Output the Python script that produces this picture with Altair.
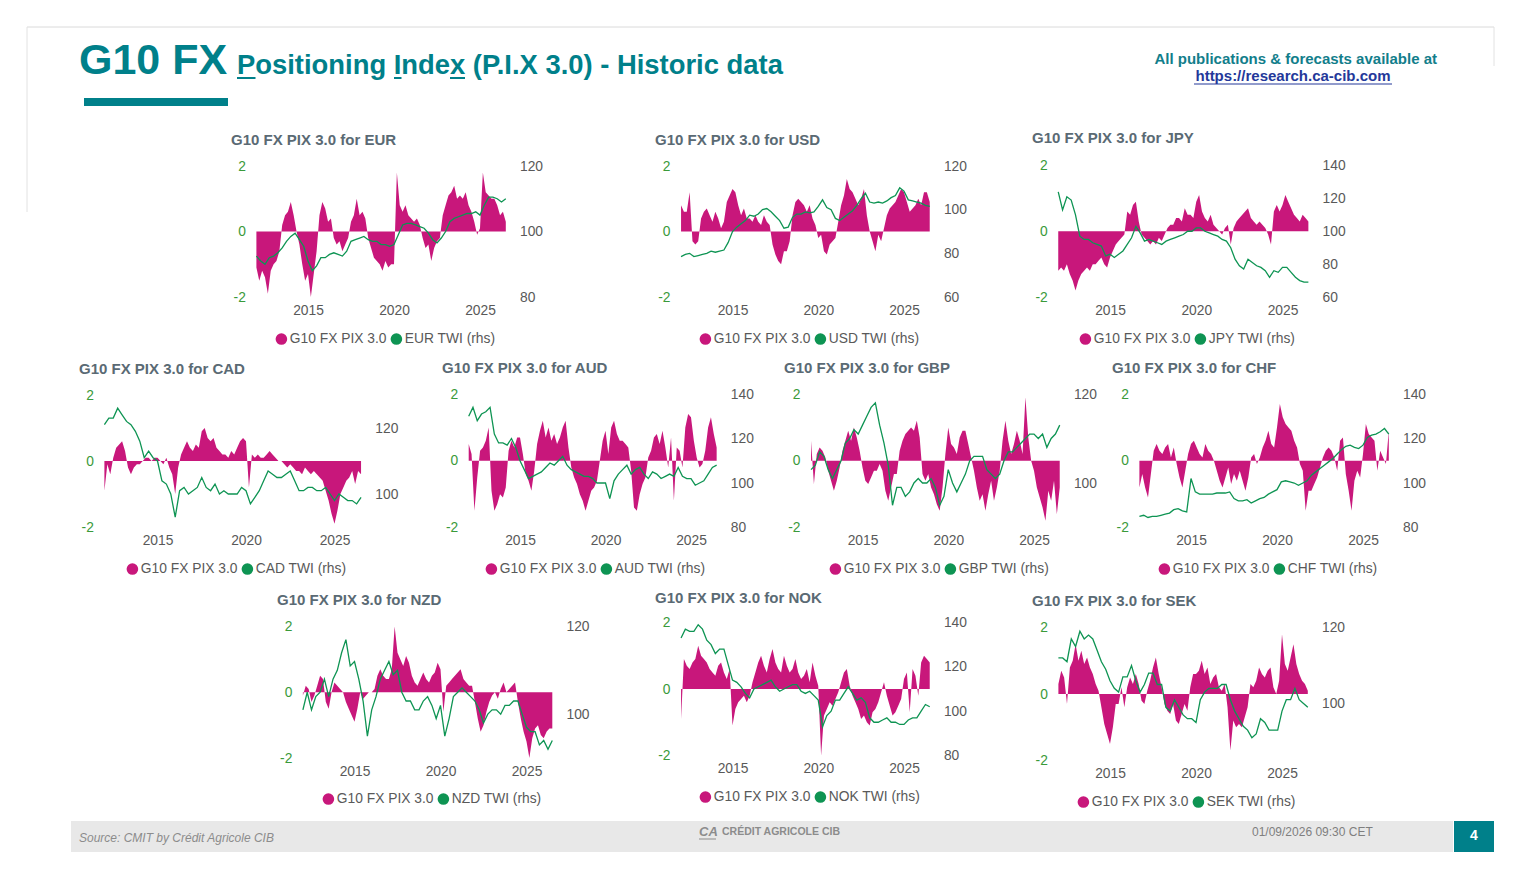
import altair as alt
import pandas as pd

FONT = "Liberation Sans"
TEAL = "#00808A"
MAGENTA = "#C8177B"
GREEN = "#0E9453"
AXGREEN = "#3A9A3A"
GREY = "#595959"
TITLE_GREY = "#5A6A74"
W, H, M = 1506, 864, 8

# ---------------- data ----------------
PIX_T = [round(2012 + k / 6, 4) for k in range(88)]   # bi-monthly grid 2012.0 .. 2026.5
TWI_T = [2012 + k / 4 for k in range(59)]             # quarterly grid 2012.0 .. 2026.5
LEG_PIX = "G10 FX PIX 3.0"
CCYS = ["EUR", "USD", "JPY", "CAD", "AUD", "GBP", "CHF", "NZD", "NOK", "SEK"]

EUR_PIX = [-1.1, -1.5, -1.2, -1.4, -1.9, -1.2,
           -1.0, -0.9, -0.6, 0.2, 0.5, 0.6,
           0.9, 0.5, 0.0, -0.4, -1.0, -1.5,
           -1.3, -2.0, -1.3, -0.6, 0.5, 0.9,
           0.7, 0.3, 0.4, -0.2, -0.4, -0.3,
           -0.6, -0.4, -0.2, 0.3, 0.5, 1.0,
           0.5, 0.6, 0.4, -0.2, -0.5, -0.8,
           -0.9, -1.0, -1.2, -0.9, -1.1, -1.0,
           -1.0, 1.8, 0.8, 0.6, 0.8, 0.5,
           0.4, 0.3, 0.4, 0.2, -0.2, -0.5,
           -0.4, -0.9, -0.5, -0.3, -0.2, 0.5,
           0.8, 1.1, 1.2, 1.4, 1.0, 1.1,
           1.0, 1.2, 0.8, 0.6, 0.3, -0.1,
           0.1, 1.8, 1.2, 1.1, 1.0, 1.0,
           0.8, 0.5, 0.6, 0.3]
EUR_TWI = [92.5, 91, 90, 92, 92.5, 93.5, 95, 97, 98.5, 99.5, 97.5, 95.5,
           91, 88, 89.5, 92, 92, 93, 93.5, 93, 92.5, 94, 97, 97.5,
           98, 98.5, 97.5, 97, 97, 96, 96, 95.5, 96, 99, 102, 102.5,
           102.5, 102, 101.5, 101, 99.5, 97.5, 96.5, 98, 100, 103, 104, 104.5,
           105, 105.5, 105.5, 106, 105, 108, 110.5, 110.5, 110, 109, 110]

USD_PIX = [0.8, 0.6, 0.6, 1.2, -0.3, -0.4,
           -0.3, 0.4, 0.6, 0.7, 0.5, 0.3,
           0.6, 0.4, 0.1, 0.3, 0.9, 1.1,
           1.3, 1.2, 0.8, 0.5, 0.7, 0.4,
           0.4, 0.3, 0.5, 0.3, 0.2, 0.5,
           0.3, 0.2, -0.4, -0.7, -0.9, -1.0,
           -0.6, -0.6, -0.3, 0.5, 0.9, 1.0,
           0.9, 0.8, 0.6, 0.8, 0.4, 0.2,
           -0.2, -0.1, -0.6, -0.7, -0.4, -0.3,
           -0.2, 0.3, 0.8, 1.1, 1.6, 1.3,
           1.2, 1.0, 0.8, 1.0, 1.3, 0.5,
           0.0, -0.3, -0.6, -0.1, -0.3, 0.1,
           0.5, 0.7, 0.8, 0.9, 1.1, 1.3,
           1.2, 0.9, 0.6, 0.7, 0.8, 1.0,
           0.8, 1.2, 1.2, 0.9]
USD_TWI = [78.5, 79.5, 80, 78.5, 79, 79.5, 80, 81, 80.5, 81, 81.5, 85,
           90, 92, 93.5, 95, 97.5, 97, 98, 100, 100.5, 99, 97, 95,
           91.5, 92, 96.5, 98, 98, 99, 98.5, 99, 101.5, 104.5, 101, 100,
           96, 95, 96.5, 98, 99.5, 102, 105, 107.5, 103.5, 103, 103.5, 103,
           104, 105.5, 106.5, 110, 108.5, 104.5, 104, 103.5, 103, 102, 101.5]

JPY_PIX = [-1.2, -1.1, -1.2, -1.0, -1.3, -1.5,
           -1.8, -1.5, -1.3, -1.2, -1.1, -1.2,
           -1.0, -1.0, -0.9, -0.8, -1.0, -1.1,
           -0.8, -0.6, -0.4, -0.3, -0.2, -0.1,
           0.6, 0.5, 0.8, 0.9, 0.3, -0.1,
           -0.2, -0.3, -0.4, -0.3, -0.4, -0.2,
           -0.3, -0.1, 0.1, 0.2, 0.2, 0.4,
           0.4, 0.3, 0.7, 0.5, 0.5, 0.4,
           0.9, 1.1, 0.6, 0.4, 0.3, 0.5,
           0.2, 0.1, 0.0, -0.1, 0.1, 0.2,
           -0.4, 0.1, 0.3, 0.4, 0.5, 0.6,
           0.7, 0.4, 0.3, 0.2, 0.3, 0.2,
           0.1, -0.1, -0.4, 0.6, 0.8, 0.6,
           0.8, 1.1, 0.9, 0.7, 0.5, 0.4,
           0.3, 0.5, 0.4, 0.3]
JPY_TWI = [124, 113, 121, 119, 110, 97, 95, 95, 93, 92, 91, 85,
           86, 84, 86, 88, 92, 96, 103, 99, 94, 95, 94, 93,
           92, 94, 95, 96, 97, 98, 100, 100, 102, 102, 100, 99,
           98, 97, 95, 94, 90, 83, 79, 77, 83, 81, 79, 78,
           76, 72, 76, 75, 78, 78, 75, 72, 70, 69, 69]

CAD_PIX = [-0.9, -0.1, -0.4, 0.1, 0.4, 0.5,
           0.6, 0.3, -0.2, -0.4, -0.2, -0.1,
           -0.1, 0.0, 0.1, 0.1, 0.0, 0.1,
           0.1, 0.0, -0.1, 0.1, -0.2, -0.4,
           -1.0, -0.2, 0.2, 0.4, 0.6, 0.4,
           0.3, 0.5, 0.4, 0.9, 1.0, 0.7,
           0.6, 0.7, 0.4, 0.3, 0.2, 0.2,
           0.1, 0.3, 0.2, 0.4, 0.6, 0.7,
           0.6, -0.8, 0.2, 0.1, 0.2, 0.1,
           0.1, 0.2, 0.3, 0.2, 0.1, 0.0,
           0.0, -0.1, -0.2, -0.1, -0.2, -0.3,
           -0.3, -0.4, -0.2, -0.3, -0.4, -0.3,
           -0.4, -0.5, -0.6, -0.9, -1.2, -1.6,
           -1.9, -1.5, -1.0, -0.8, -0.6, -0.5,
           -0.3, -0.7, -0.3, -0.4]
CAD_TWI = [121, 123, 123, 126, 124, 122, 121, 119, 116, 111, 113, 111,
           110, 104, 103, 100, 93, 101, 102, 100, 101, 102, 105, 102,
           101, 103, 100, 101, 100, 100, 100, 102, 101, 97, 99, 101,
           104, 107, 106, 105, 105, 106, 107, 104, 101, 101, 102, 102,
           101, 101, 102, 100, 98, 100, 99, 98, 98, 97, 99]

AUD_PIX = [0.5, 0.2, -1.5, -0.5, 0.3, 0.4,
           0.6, 1.0, -0.9, -1.5, -1.3, -1.0,
           -1.1, -0.8, 0.3, 0.6, 0.4, 0.7,
           0.7, 0.2, -0.4, -0.6, -0.9, -0.3,
           0.5, 0.9, 1.2, 0.7, 1.0, 0.6,
           0.8, 0.5, 0.7, 1.0, 1.2, 0.4,
           -0.2, -0.5, -0.7, -1.0, -1.2, -1.5,
           -1.2, -0.9, -0.8, -0.6, 0.0, 0.6,
           0.9, 0.2, 1.0, 1.2, 0.8, 0.6,
           0.6, 0.5, 0.4, -0.3, -1.4, -1.5,
           -1.0, -0.7, -0.5, 0.1, 0.3, 0.7,
           0.8, 0.5, 0.9, 0.4, -0.2, 0.7,
           -1.2, 0.4, 0.3, -0.2, 1.0, 1.4,
           1.3, 0.6, 0.1, -0.2, -0.1, 0.3,
           1.0, 1.3, 0.8, 0.4]
AUD_TWI = [130, 134, 128, 131, 132, 134, 122, 118, 118, 117, 120, 116,
           110, 106, 102, 103, 104, 105, 107, 109, 108, 110, 112, 108,
           106, 105, 104, 103, 103, 102, 100, 100, 100, 93, 101, 104,
           106, 108, 104, 106, 107, 104, 102, 105, 104, 102, 103, 104,
           103, 107, 103, 102, 102, 99, 100, 101, 104, 107, 108]

GBP_PIX = [0.6, -0.7, 0.2, 0.4, 0.3, 0.1,
           -0.3, -0.6, -0.9, -0.6, -0.2, 0.3,
           0.6, 0.9, 0.6, 1.0, 0.7, 0.3,
           -0.2, -0.6, -0.7, -0.5, -0.3, -0.3,
           -0.1, -0.3, -0.9, -1.2, -0.8, -0.4,
           -0.4, 0.3, 0.6, 0.8, 0.9, 1.0,
           0.9, 1.2, 0.7, -0.4, -0.6, -0.4,
           -0.8, -1.0, -1.3, -1.5, -0.8, 0.2,
           1.0, 0.5, 0.4, 0.2, 0.7, 0.9,
           0.9, 0.5, 0.1, -0.3, -0.8, -1.2,
           -1.0, -1.5, -1.0, -0.6, -1.2, -0.8,
           -0.3, 0.6, 1.2, 0.6, 0.2, 0.5,
           0.9, 0.6, 0.2, 1.9, 0.7, 0.0,
           -0.3, -0.8, -1.1, -1.4, -1.8, -0.9,
           -1.2, -0.6, -1.6, -0.8]
GBP_TWI = [103, 104, 107, 106, 103, 101, 103, 105, 109, 110, 112, 111,
           113, 115, 117, 118, 113, 109, 104, 95, 99, 99, 97, 98,
           100, 101, 100, 100, 101, 99, 95, 97, 103, 100, 98, 100,
           102, 105, 106, 106, 106, 103, 102, 101, 102, 105, 107, 107,
           108, 109, 110, 111, 111, 110, 111, 108, 110, 111, 113]

CHF_PIX = [-0.8, -0.4, -0.8, -1.1, -0.4, 0.3,
           0.5, 0.3, 0.2, 0.4, 0.5, 0.1,
           0.4, -0.1, -0.5, -0.8, -0.3, 0.2,
           0.5, 0.6, 0.4, 0.2, 0.1, 0.5,
           0.3, 0.2, 0.0, -0.3, -0.6, -0.8,
           -0.5, -0.2, -0.7, -0.4, -0.6, -0.3,
           -0.6, -0.9, -0.5, 0.1, 0.2, -0.1,
           0.1, 0.4, 0.6, 0.9, 0.5, 0.4,
           1.0, 1.7, 1.3, 1.1, 1.0, 0.9,
           0.6, 0.4, -0.1, -0.3, -1.5, -0.9,
           -0.9, -0.7, -0.5, -0.2, 0.1, 0.3,
           0.4, 0.3, 0.1, -0.3, 0.6, 0.7,
           -0.4, -0.9, -1.5, -0.6, -0.3, -0.5,
           0.2, 1.1, 0.8, 0.7, 0.6, -0.3,
           0.3, 0.1, -0.1, 0.9]
CHF_TWI = [85, 85.5, 84.5, 85, 85, 85.5, 86, 86.5, 88, 88.5, 87.5, 87,
           102, 96, 95, 95, 95, 95, 95.5, 95.5, 95.5, 96, 93, 92,
           92, 92.5, 91, 92, 93, 93.5, 95, 96, 97, 100.5, 101, 100.5,
           100, 99, 100, 101, 103.5, 105, 106.5, 108, 109.5, 111, 113, 115,
           116.5, 117, 116, 115.5, 117, 120.5, 121.5, 122, 123, 124.5, 122]

NZD_PIX = [-0.1, 0.2, 0.1, -0.3, -0.1, 0.2,
           0.5, 0.4, -0.3, -0.5, 0.0, 0.3,
           0.2, 0.1, 0.0, -0.3, -0.5, -0.7,
           -0.9, -0.5, 0.0, -0.2, -0.1, 0.0,
           0.0, 0.1, 0.5, 0.7, 0.5, 0.4,
           0.4, 0.7, 2.0, 1.2, 1.0, 0.8,
           1.1, 0.9, 0.5, 0.3, 0.2, 0.4,
           0.6, 0.4, 0.3, 0.5, 0.6, 0.9,
           0.7, -0.6, 0.2, 0.3, 0.4, 0.5,
           0.6, 0.7, 0.4, 0.3, 0.2, 0.2,
           -0.3, -0.8, -1.2, -1.0, -0.6, -0.3,
           -0.1, 0.0, -0.2, 0.1, 0.3, 0.0,
           0.1, 0.2, 0.3, -0.3, -0.8, -1.2,
           -1.5, -2.0, -1.4, -1.1, -1.0, -1.3,
           -1.4, -1.2, -1.1, -1.1]
NZD_TWI = [101, 105, 101, 104, 105, 108, 104, 108, 110, 114, 117, 111,
           112, 108, 103, 95, 101, 104, 108, 110, 112, 109, 110, 105,
           103, 103, 101, 101, 103, 104, 102, 99, 102, 95, 99, 104,
           105, 106, 105, 104, 103, 101, 98, 100, 101, 101, 100, 102,
           102, 103, 103, 100, 97, 96, 96, 93, 94, 92, 94]

NOK_PIX = [-0.9, 0.9, 0.7, 0.6, 0.8, 0.9,
           1.3, 1.0, 0.9, 0.8, 0.6, 0.5,
           0.4, 0.7, 0.8, 0.5, 0.3, 0.6,
           -1.1, -0.6, -0.4, -0.3, -0.2, -0.4,
           -0.2, 0.2, 0.5, 0.8, 1.0, 0.7,
           0.5, 0.9, 1.2, 0.8, 0.6, 0.5,
           1.0, 0.7, 0.5, 0.6, 0.9, 0.5,
           0.3, 0.4, 0.6, 0.2, 0.8, 0.4,
           0.1, -2.0, -0.8, -0.6, -0.4, -0.5,
           -0.3, -0.1, 0.2, 0.5, 0.6, 0.1,
           -0.2, -0.4, -0.6, -0.9, -0.8, -1.0,
           -1.1, -0.7, -0.6, -0.4, -0.1, 0.2,
           -0.2, -0.5, -0.8, -0.7, -0.5, -0.3,
           0.3, 0.5, -0.7, 0.6, 0.4, -0.2,
           0.8, 1.0, 0.9, 0.8]
NOK_TWI = [133, 137, 136, 136, 139, 137, 132, 130, 126, 128, 128, 121,
           114, 113, 111, 108, 106, 110, 111, 112, 113, 114, 111, 109,
           110, 111, 112, 112, 109, 108, 109, 107, 105, 93, 98, 100,
           105, 105, 108, 111, 108, 105, 106, 104, 97, 95, 95, 96,
           97, 95, 95, 94, 94, 96, 97, 97, 100, 103, 102]

SEK_PIX = [0.3, 0.7, 0.5, -0.3, 0.8, 1.0,
           1.5, 1.0, 1.3, 0.9, 1.1, 0.8,
           0.6, 0.3, 0.1, -0.4, -0.9, -1.2,
           -1.5, -1.0, -0.3, -0.3, 0.2, -0.4,
           0.2, 0.5, 0.3, 0.6, 0.3, -0.2,
           -0.3, 0.1, 0.4, 0.8, 1.1, 0.6,
           0.2, -0.3, -0.5, -0.6, -0.3, -0.8,
           -0.9, -0.6, -0.3, -0.5, 0.2, 0.6,
           0.6, 0.7, 1.0, 0.6, 0.8, 0.3,
           0.5, 0.6, 0.2, 0.1, 0.3, -0.4,
           -1.7, -0.8, -1.0, -0.9, -1.0, -0.7,
           -0.4, 0.3, 0.2, 0.4, 0.8, 0.6,
           0.5, 0.7, 0.8, 0.2, 0.0, 0.4,
           1.8, 0.9, 0.7, 1.1, 1.5, 0.9,
           0.6, 0.4, 0.3, 0.1]
SEK_TWI = [112, 112, 111, 117, 115, 119, 117, 118, 117, 114, 111, 109,
           106, 104, 103, 107, 107, 110, 106, 103, 105, 108, 108, 105,
           105, 99, 98, 101, 99, 97, 96, 96, 95, 101, 103, 104,
           104, 104, 105, 105, 101, 98, 96, 94, 93, 91, 92, 96,
           95, 93, 93, 93, 98, 101, 101, 104, 101, 100, 99]

SERIES = {
    "EUR": (EUR_PIX, EUR_TWI, [80, 120], [80, 100, 120]),
    "USD": (USD_PIX, USD_TWI, [60, 120], [60, 80, 100, 120]),
    "JPY": (JPY_PIX, JPY_TWI, [60, 140], [60, 80, 100, 120, 140]),
    "CAD": (CAD_PIX, CAD_TWI, [90, 130], [100, 120]),
    "AUD": (AUD_PIX, AUD_TWI, [80, 140], [80, 100, 120, 140]),
    "GBP": (GBP_PIX, GBP_TWI, [90, 120], [100, 120]),
    "CHF": (CHF_PIX, CHF_TWI, [80, 140], [80, 100, 120, 140]),
    "NZD": (NZD_PIX, NZD_TWI, [90, 120], [100, 120]),
    "NOK": (NOK_PIX, NOK_TWI, [80, 140], [80, 100, 120, 140]),
    "SEK": (SEK_PIX, SEK_TWI, [85, 120], [100, 120]),
}

# ---------------- layout (page pixels) ----------------
LAYOUT = {
    "EUR": dict(x15=308, x25=480, yt=166, yb=297, tx=231, ty=140, lx=281, ly=339),
    "USD": dict(x15=732.5, x25=904, yt=166, yb=297, tx=655, ty=140, lx=705, ly=339),
    "JPY": dict(x15=1110, x25=1282.5, yt=165.5, yb=297, tx=1032, ty=138, lx=1085, ly=339),
    "CAD": dict(x15=157.5, x25=334.5, yt=395, yb=527, tx=79, ty=369, lx=132, ly=569),
    "AUD": dict(x15=520, x25=691, yt=394, yb=527.5, tx=442, ty=368, lx=491, ly=569),
    "GBP": dict(x15=862.5, x25=1034, yt=394, yb=527.5, tx=784, ty=368, lx=835, ly=569),
    "CHF": dict(x15=1191, x25=1363, yt=394, yb=527.5, tx=1112, ty=368, lx=1164, ly=569),
    "NZD": dict(x15=354.5, x25=526.5, yt=626.5, yb=758, tx=277, ty=600, lx=328, ly=799),
    "NOK": dict(x15=732.5, x25=904, yt=622.5, yb=755.5, tx=655, ty=598, lx=705, ly=797),
    "SEK": dict(x15=1110, x25=1282, yt=627.5, yb=760.5, tx=1032, ty=601, lx=1083, ly=802),
}

BASE = pd.DataFrame({"k": [0]})


def txt(s, x, y, size, color, weight="normal", style="normal", align="left", baseline="middle"):
    return alt.Chart(BASE).mark_text(
        text=s, font=FONT, fontSize=size, fontWeight=weight, fontStyle=style,
        color=color, align=align, baseline=baseline,
    ).encode(x=alt.value(x - M), y=alt.value(y - M))


def rect(x0, y0, x1, y1, color):
    return alt.Chart(BASE).mark_rect(color=color).encode(
        x=alt.value(x0 - M), x2=alt.value(x1 - M), y=alt.value(y0 - M), y2=alt.value(y1 - M))


def rule(x0, y0, x1, y1, color, w=1.0):
    return alt.Chart(BASE).mark_rule(color=color, strokeWidth=w).encode(
        x=alt.value(x0 - M), x2=alt.value(x1 - M), y=alt.value(y0 - M), y2=alt.value(y1 - M))


def panel(ccy):
    pix, twi, dom, ticks = SERIES[ccy]
    L = LAYOUT[ccy]
    ppy = (L["x25"] - L["x15"]) / 10
    x0 = L["x15"] - 3 * ppy - M
    x1 = L["x15"] + 11.6 * ppy - M
    yb, yt = L["yb"] - M, L["yt"] - M
    names = [LEG_PIX, f"{ccy} TWI (rhs)"]
    cscale = alt.Scale(domain=names, range=[MAGENTA, GREEN])
    leg = alt.Legend(
        title=None, orient="none", legendX=L["lx"] - 6.5 - M, legendY=L["ly"] - 7 - M,
        direction="horizontal", symbolType="circle", symbolSize=135, symbolStrokeWidth=0,
        labelFontSize=13.8, labelColor=GREY, labelFont=FONT, columnPadding=3,
        labelOffset=1.5, padding=0,
    )
    xenc = alt.X(
        "t:Q",
        scale=alt.Scale(domain=[2012, 2026.6], range=[x0, x1], nice=False, zero=False),
        axis=alt.Axis(orient="bottom", offset=yb - H, values=[2015, 2020, 2025], format="d",
                      grid=False, domain=False, ticks=False, labelPadding=6,
                      labelFontSize=13.8, labelColor=GREY, labelFont=FONT, title=None),
    )
    dpix = pd.DataFrame({"t": PIX_T, "v": pix, "s": names[0]})
    dtwi = pd.DataFrame({"t": TWI_T, "v": twi, "s": names[1]})
    area = alt.Chart(dpix).mark_area(opacity=1).encode(
        x=xenc,
        y=alt.Y("v:Q", scale=alt.Scale(domain=[-2, 2], range=[yb, yt], nice=False),
                axis=alt.Axis(orient="left", offset=-x0, values=[-2, 0, 2],
                              labelExpr="'' + datum.value", grid=False, domain=False,
                              ticks=False, labelPadding=11, labelFontSize=13.8,
                              labelColor=AXGREEN, labelFont=FONT, title=None)),
        color=alt.Color("s:N", scale=cscale, legend=leg),
    )
    line = alt.Chart(dtwi).mark_line(strokeWidth=1.3).encode(
        x=xenc,
        y=alt.Y("v:Q", scale=alt.Scale(domain=dom, range=[yb, yt], nice=False, zero=False),
                axis=alt.Axis(orient="right", offset=x1 - W, values=ticks, grid=False,
                              domain=False, ticks=False, labelPadding=12, labelFontSize=13.8,
                              labelColor=GREY, labelFont=FONT, title=None)),
        color=alt.Color("s:N", scale=cscale, legend=leg),
    )
    return alt.layer(area, line).resolve_scale(y="independent")


deco = [
    rule(27, 27, 1494, 27, "#DADADA"),
    rule(27, 27, 27, 212, "#E2E2E2"),
    rule(1494, 27, 1494, 66, "#E2E2E2"),
    txt("G10 FX", 79, 74, 43, TEAL, "bold", baseline="alphabetic"),
    txt("Positioning Index (P.I.X 3.0) - Historic data", 237, 74, 27.4, TEAL, "bold",
        baseline="alphabetic"),
    rule(237, 78, 255.5, 78, TEAL, 2),
    rule(394, 78, 401.5, 78, TEAL, 2),
    rule(450, 78, 465, 78, TEAL, 2),
    rect(84, 98, 228, 106, TEAL),
    txt("All publications & forecasts available at", 1437, 59, 15, "#127E8B", "bold",
        align="right"),
    txt("https://research.ca-cib.com", 1293, 76, 15, "#24389A", "bold", align="center"),
    rule(1194, 84, 1392, 84, "#24389A", 1.2),
    rect(71, 821, 1453, 852, "#E8E8E8"),
    rect(1454, 821, 1494, 852, TEAL),
    txt("4", 1474, 836, 14, "white", "bold", align="center"),
    txt("Source: CMIT by Crédit Agricole CIB", 79, 838, 12, "#8C8C8C", style="italic"),
    txt("CA", 699, 832, 13, "#8C8C8C", "bold", style="italic"),
    rule(699, 839, 716, 839, "#8C8C8C", 1),
    txt("CRÉDIT AGRICOLE CIB", 722, 832, 10.5, "#8C8C8C", "bold"),
    txt("01/09/2026 09:30 CET", 1252, 832, 12, "#7F7F7F"),
]
for c in CCYS:
    L = LAYOUT[c]
    deco.append(txt(f"G10 FX PIX 3.0 for {c}", L["tx"], L["ty"], 15, TITLE_GREY, "bold"))

panels = [panel(c) for c in CCYS]

chart = (
    alt.layer(*deco, *panels)
    .resolve_scale(x="independent", y="independent", color="independent")
    .properties(width=W, height=H, padding=0, background="white")
    .configure(font=FONT)
    .configure_view(stroke=None)
)

chart.save("out.html", embed_options={"renderer": "svg", "actions": False})
